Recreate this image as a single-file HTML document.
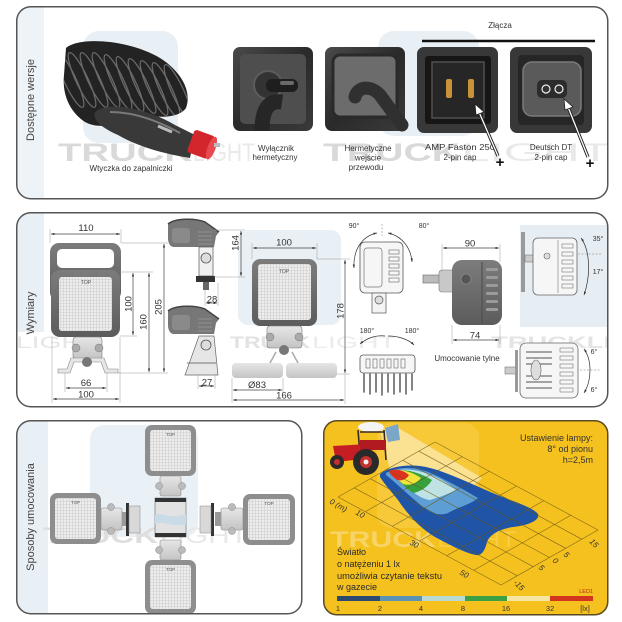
<!DOCTYPE html>
<html><head><meta charset="utf-8"><style>
html,body{margin:0;padding:0;background:#fff;}
svg{display:block;}
text{font-family:"Liberation Sans",Arial,sans-serif;}
</style></head><body>
<svg width="622" height="622" viewBox="0 0 622 622" xmlns="http://www.w3.org/2000/svg">
<defs>
 <pattern id="lg" width="3" height="3" patternUnits="userSpaceOnUse"><rect width="3" height="3" fill="#ededed"/><path d="M0 .5H3M.5 0V3" stroke="#cecece" stroke-width=".6"/></pattern>
 <marker id="ar" viewBox="0 0 6 4" refX="6" refY="2" markerWidth="5" markerHeight="3.4" orient="auto-start-reverse"><path d="M0 0L6 2L0 4z" fill="#333"/></marker>
 <linearGradient id="gb" x1="0" y1="0" x2="0" y2="1"><stop offset="0" stop-color="#7c7c7c"/><stop offset="1" stop-color="#5c5c5c"/></linearGradient>
 <linearGradient id="gp" x1="0" y1="0" x2="1" y2="1"><stop offset="0" stop-color="#4a4a4a"/><stop offset=".5" stop-color="#2a2a2a"/><stop offset="1" stop-color="#3a3a3a"/></linearGradient>
 <linearGradient id="gm" x1="0" y1="0" x2="0" y2="1"><stop offset="0" stop-color="#e6e6e6"/><stop offset="1" stop-color="#c4c4c4"/></linearGradient>
 <clipPath id="c1"><rect x="16.75" y="6.75" width="591" height="192" rx="14"/></clipPath>
 <clipPath id="c2"><rect x="16.75" y="212.75" width="591" height="194" rx="14"/></clipPath>
 <clipPath id="c3"><rect x="16.75" y="420.75" width="285" height="193" rx="14"/></clipPath>
 <clipPath id="coil"><path d="M66,48 C80,36 130,40 160,58 C182,72 192,92 186,108 C178,120 150,118 135,112 C120,125 100,130 85,122 C70,112 62,95 64,75 Z"/></clipPath>
</defs>

<!-- ================= PANEL 1 ================= -->
<rect x="16.75" y="6.75" width="591" height="192" rx="14" fill="#fff"/>
<g clip-path="url(#c1)">
 <rect x="16" y="6" width="28" height="194" fill="#edf3f7"/>
 <rect x="83" y="31" width="95" height="112" rx="16" fill="#e8eff5"/>
 <rect x="378" y="31" width="101" height="105" rx="16" fill="#e8eff5"/>
 <text x="58" y="161" font-size="25" font-weight="bold" fill="#d9d9d9" textLength="134" lengthAdjust="spacingAndGlyphs">TRUCK</text>
 <text x="193" y="161" font-size="25" fill="#e9e9e9" textLength="62" lengthAdjust="spacingAndGlyphs">LIGHT</text>
 <text x="323" y="161" font-size="25" font-weight="bold" fill="#d9d9d9" textLength="137" lengthAdjust="spacingAndGlyphs">TRUCK</text>
 <text x="461" y="161" font-size="25" fill="#e9e9e9" textLength="150" lengthAdjust="spacingAndGlyphs">LIGHT</text>
</g>
<rect x="16.75" y="6.75" width="591" height="192" rx="14" fill="none" stroke="#555" stroke-width="1.5"/>
<text transform="translate(34,100) rotate(-90)" text-anchor="middle" font-size="11" fill="#444">Dostępne wersje</text>

<!-- cable -->
<path d="M66,48 C80,36 130,40 160,58 C182,72 192,92 186,108 C178,120 150,118 135,112 C120,125 100,130 85,122 C70,112 62,95 64,75 Z" fill="#232323"/>
<g clip-path="url(#coil)" stroke="#6a6a6a" stroke-width="1.3" fill="none">
 <ellipse cx="70" cy="80" rx="6" ry="30" transform="rotate(-25 70 80)"/>
 <ellipse cx="82" cy="80" rx="6" ry="30" transform="rotate(-25 82 80)"/>
 <ellipse cx="94" cy="80" rx="6" ry="30" transform="rotate(-25 94 80)"/>
 <ellipse cx="106" cy="80" rx="6" ry="30" transform="rotate(-25 106 80)"/>
 <ellipse cx="118" cy="82" rx="6" ry="30" transform="rotate(-25 118 82)"/>
 <ellipse cx="130" cy="84" rx="6" ry="30" transform="rotate(-25 130 84)"/>
 <ellipse cx="142" cy="86" rx="6" ry="30" transform="rotate(-25 142 86)"/>
 <ellipse cx="154" cy="88" rx="6" ry="30" transform="rotate(-25 154 88)"/>
 <ellipse cx="166" cy="90" rx="6" ry="30" transform="rotate(-25 166 90)"/>
 <ellipse cx="178" cy="92" rx="6" ry="30" transform="rotate(-25 178 92)"/>
</g>
<path d="M95,112 C110,100 150,110 175,125 L195,135 L190,158 C170,155 140,148 118,135 C102,128 92,120 95,112 Z" fill="#393939"/>
<path d="M110,112 C135,112 160,122 180,133" stroke="#7a7a7a" stroke-width="2" fill="none"/>
<path d="M158,126 L172,132" stroke="#bbb" stroke-width="3"/>
<g transform="rotate(20 203 145)"><rect x="190" y="133" width="22" height="24" rx="3" fill="#d3262c"/><ellipse cx="212" cy="145" rx="4" ry="12" fill="#e9494e"/></g>
<rect x="214" y="143" width="6" height="4" fill="#bcbcbc"/>
<text x="131" y="171" text-anchor="middle" font-size="8" fill="#333" textLength="83" lengthAdjust="spacingAndGlyphs">Wtyczka do zapalniczki</text>

<!-- switch -->
<rect x="233" y="47" width="80" height="84" rx="7" fill="url(#gp)"/>
<rect x="240" y="54" width="66" height="70" rx="5" fill="#4e4e4e"/>
<circle cx="268" cy="85" r="14" fill="#333" stroke="#5c5c5c" stroke-width="2"/>
<rect x="266" y="79" width="32" height="13" rx="6" fill="#1e1e1e"/>
<rect x="280" y="81" width="14" height="4" rx="2" fill="#6a6a6a"/>
<path d="M262,131 C262,110 268,100 282,102" stroke="#262626" stroke-width="15" fill="none"/>
<text x="276" y="151" text-anchor="middle" font-size="8" fill="#333" textLength="36" lengthAdjust="spacingAndGlyphs">Wyłącznik</text>
<text x="275" y="160" text-anchor="middle" font-size="8" fill="#333" textLength="45" lengthAdjust="spacingAndGlyphs">hermetyczny</text>

<!-- hermetic -->
<rect x="325" y="47" width="80" height="84" rx="7" fill="url(#gp)"/>
<rect x="333" y="55" width="64" height="62" rx="7" fill="#6c6c6c" stroke="#2a2a2a" stroke-width="3"/>
<path d="M355,97 C358,85 372,86 380,95 L402,125" stroke="#303030" stroke-width="13" fill="none" stroke-linecap="round"/>
<text x="368" y="151" text-anchor="middle" font-size="8" fill="#333" textLength="47" lengthAdjust="spacingAndGlyphs">Hermetyczne</text>
<text x="368" y="160.5" text-anchor="middle" font-size="8" fill="#333">wejście</text>
<text x="366" y="170" text-anchor="middle" font-size="8" fill="#333">przewodu</text>

<!-- Zlacza -->
<text x="500" y="28" text-anchor="middle" font-size="8" fill="#333">Złącza</text>
<line x1="422" y1="41" x2="595" y2="41" stroke="#111" stroke-width="2.5"/>

<!-- AMP -->
<rect x="417" y="47" width="81" height="86" rx="7" fill="#383838"/>
<rect x="425" y="56" width="66" height="68" rx="3" fill="#161616"/>
<rect x="432" y="62" width="52" height="56" fill="#262626" stroke="#505050" stroke-width="1.5"/>
<rect x="446" y="79" width="6" height="19" rx="2" fill="#c8923a"/>
<rect x="468" y="79" width="6" height="19" rx="2" fill="#c8923a"/>
<text x="460" y="150" text-anchor="middle" font-size="8" fill="#333" textLength="70" lengthAdjust="spacingAndGlyphs">AMP Faston 250</text>
<text x="460" y="160" text-anchor="middle" font-size="8" fill="#333">2-pin cap</text>

<!-- Deutsch -->
<rect x="510" y="47" width="82" height="86" rx="7" fill="#383838"/>
<rect x="518" y="55" width="66" height="70" rx="4" fill="#262626"/>
<rect x="523" y="62" width="58" height="54" rx="9" fill="#5a5a5a" stroke="#7a7a7a" stroke-width="1.5"/>
<rect x="537" y="80" width="30" height="18" rx="5" fill="#2c2c2c"/>
<circle cx="546" cy="89" r="4" fill="#333" stroke="#eee" stroke-width="1.2"/>
<circle cx="559" cy="89" r="4" fill="#333" stroke="#eee" stroke-width="1.2"/>
<text x="551" y="150" text-anchor="middle" font-size="8" fill="#333">Deutsch DT</text>
<text x="551" y="160" text-anchor="middle" font-size="8" fill="#333">2-pin cap</text>

<!-- arrows -->
<line x1="498" y1="156" x2="479" y2="112" stroke="#222" stroke-width="3.2"/>
<line x1="498" y1="156" x2="479" y2="112" stroke="#fff" stroke-width="1.3"/>
<path d="M475,104 L484,112 L476,115 Z" fill="#fff" stroke="#222" stroke-width=".8"/>
<line x1="588" y1="157" x2="568" y2="107" stroke="#222" stroke-width="3.2"/>
<line x1="588" y1="157" x2="568" y2="107" stroke="#fff" stroke-width="1.3"/>
<path d="M564,99 L573,107 L565,110 Z" fill="#fff" stroke="#222" stroke-width=".8"/>
<text x="500" y="167" text-anchor="middle" font-size="15" font-weight="bold" fill="#111">+</text>
<text x="590" y="168" text-anchor="middle" font-size="15" font-weight="bold" fill="#111">+</text>

<!-- ================= PANEL 2 ================= -->
<rect x="16.75" y="212.75" width="591" height="194" rx="14" fill="#fff"/>
<g clip-path="url(#c2)">
 <rect x="16" y="212" width="28" height="120" fill="#e8eff5"/>
 <rect x="238" y="230" width="103" height="95" rx="10" fill="#e8eff5"/>
 <rect x="520" y="225" width="90" height="102" fill="#e6eef4"/>
 <text x="16" y="348" font-size="17" fill="#e6e6e6" textLength="83" lengthAdjust="spacingAndGlyphs">LIGHT</text>
 <text x="230" y="348" font-size="17" font-weight="bold" fill="#e2e2e2" textLength="80" lengthAdjust="spacingAndGlyphs">TRUCK</text>
 <text x="312" y="348" font-size="17" fill="#ececec" textLength="84" lengthAdjust="spacingAndGlyphs">LIGHT</text>
 <text x="491" y="348" font-size="17" font-weight="bold" fill="#e4e4e4" textLength="120" lengthAdjust="spacingAndGlyphs">TRUCKLI</text>
</g>
<rect x="16.75" y="212.75" width="591" height="194" rx="14" fill="none" stroke="#555" stroke-width="1.5"/>
<text transform="translate(34,313) rotate(-90)" text-anchor="middle" font-size="11" fill="#444">Wymiary</text>

<!-- lamp 1 -->
<rect x="50" y="243" width="71" height="58" rx="9" fill="url(#gb)"/>
<rect x="57" y="249" width="57" height="19" rx="5" fill="#fff"/>
<rect x="51" y="270" width="69" height="67" rx="9" fill="url(#gb)"/>
<rect x="59" y="277" width="53" height="54" rx="3" fill="url(#lg)"/>
<text x="86" y="284" text-anchor="middle" font-size="5" fill="#555">TOP</text>
<rect x="73" y="337" width="29" height="22" rx="3" fill="url(#gm)" stroke="#777" stroke-width=".6"/>
<circle cx="76" cy="348" r="4" fill="#aaa" stroke="#777" stroke-width=".5"/>
<circle cx="99" cy="348" r="4" fill="#aaa" stroke="#777" stroke-width=".5"/>
<path d="M58,373 L70,373 L74,362 L101,362 L105,373 L118,373 L118,369 L108,369 L104,358 L71,358 L67,369 L58,369 Z" fill="#e6e6e6" stroke="#888" stroke-width=".6"/>
<circle cx="87" cy="362" r="5" fill="#777"/>
<!-- lamp1 dims -->
<g stroke="#999" stroke-width=".5" fill="none">
 <path d="M50,229V243M121,229V243M121,243H168M120,272H153M120,336H137M118,373H168M65,373V392M107,373V392M52,337V403M120,337V403"/>
</g>
<g stroke="#444" stroke-width=".7" marker-start="url(#ar)" marker-end="url(#ar)">
 <line x1="51" y1="234" x2="120" y2="234"/>
 <line x1="133" y1="273" x2="133" y2="335"/>
 <line x1="149" y1="273" x2="149" y2="372"/>
 <line x1="164" y1="244" x2="164" y2="372"/>
 <line x1="66" y1="388" x2="106" y2="388"/>
 <line x1="53" y1="399" x2="119" y2="399"/>
</g>
<g font-size="9.5" fill="#333" text-anchor="middle">
 <text x="86" y="231">110</text>
 <text transform="translate(131.5,304) rotate(-90)">100</text>
 <text transform="translate(146.5,322) rotate(-90)">160</text>
 <text transform="translate(161.5,307) rotate(-90)">205</text>
 <text x="86" y="386">66</text>
 <text x="86" y="397.5">100</text>
</g>

<!-- side view top -->
<path d="M168,224 C175,218 195,218 205,222 L219,232 L216,236 L214,247 L174,247 C170,247 168,243 168,238 Z" fill="#777"/>
<path d="M168,224 C175,218 195,218 205,222 L219,232" stroke="#444" stroke-width="1.5" fill="none"/>
<rect x="172" y="228" width="18" height="15" rx="3" fill="#8a8a8a"/>
<g stroke="#9a9a9a" stroke-width=".8"><path d="M198,232H212M198,236H212M198,240H212M198,244H212"/></g>
<rect x="199" y="247" width="14" height="29" fill="#f0f0f0" stroke="#555" stroke-width=".7"/>
<circle cx="206" cy="258" r="5" fill="#ddd" stroke="#555" stroke-width=".8"/>
<rect x="196" y="276" width="19" height="6" fill="#333"/>
<rect x="203" y="282" width="6" height="8" fill="#666"/>
<!-- side view bottom -->
<path d="M168,311 C175,305 195,305 205,309 L219,319 L216,323 L214,334 L174,334 C170,334 168,330 168,325 Z" fill="#777"/>
<path d="M168,311 C175,305 195,305 205,309 L219,319" stroke="#444" stroke-width="1.5" fill="none"/>
<rect x="172" y="315" width="18" height="15" rx="3" fill="#8a8a8a"/>
<g stroke="#9a9a9a" stroke-width=".8"><path d="M198,319H212M198,323H212M198,327H212M198,331H212"/></g>
<path d="M199,336 L214,336 L218,375 L185,375 Z" fill="#e6e6e6" stroke="#666" stroke-width=".7"/>
<line x1="187" y1="363" x2="216" y2="363" stroke="#777" stroke-width="1"/>
<circle cx="206" cy="345" r="5" fill="#ddd" stroke="#555" stroke-width=".8"/>
<g stroke="#999" stroke-width=".5" fill="none">
 <path d="M214,230H245M214,277H245M205,290V306M218,283V306M198,375V389M215,375V389"/>
</g>
<g stroke="#444" stroke-width=".7" marker-start="url(#ar)" marker-end="url(#ar)">
 <line x1="241" y1="231" x2="241" y2="276"/>
 <line x1="206" y1="303" x2="217" y2="303"/>
 <line x1="199" y1="386" x2="214" y2="386"/>
</g>
<g font-size="9.5" fill="#333" text-anchor="middle">
 <text transform="translate(238.5,243) rotate(-90)">164</text>
 <text x="212" y="302.5">28</text>
 <text x="207" y="385.5">27</text>
</g>

<!-- center lamp -->
<rect x="252" y="259" width="65" height="67" rx="8" fill="url(#gb)"/>
<rect x="258" y="264" width="53" height="56" rx="3" fill="url(#lg)"/>
<text x="284" y="273" text-anchor="middle" font-size="5" fill="#555">TOP</text>
<rect x="267" y="326" width="35" height="22" rx="3" fill="url(#gm)" stroke="#777" stroke-width=".6"/>
<circle cx="270" cy="337" r="4" fill="#aaa" stroke="#777" stroke-width=".5"/>
<circle cx="299" cy="337" r="4" fill="#aaa" stroke="#777" stroke-width=".5"/>
<circle cx="284" cy="350" r="5" fill="#777"/>
<path d="M276,352 L270,363 M292,352 L298,363" stroke="#aaa" stroke-width="1.5"/>
<rect x="232" y="363" width="51" height="15" rx="4" fill="url(#gm)"/>
<rect x="286" y="363" width="51" height="15" rx="4" fill="url(#gm)"/>
<g stroke="#999" stroke-width=".5" fill="none">
 <path d="M252,243V259M317,243V259M317,259H350M337,374H350M232,378V403M283,378V393M345,374V404"/>
</g>
<g stroke="#444" stroke-width=".7" marker-start="url(#ar)" marker-end="url(#ar)">
 <line x1="253" y1="248" x2="316" y2="248"/>
 <line x1="345" y1="260" x2="345" y2="373"/>
 <line x1="233" y1="390" x2="282" y2="390"/>
 <line x1="233" y1="400" x2="344" y2="400"/>
</g>
<g font-size="9.5" fill="#333" text-anchor="middle">
 <text x="284" y="245.5">100</text>
 <text transform="translate(343.5,311) rotate(-90)">178</text>
 <text x="257" y="388">Ø83</text>
 <text x="284" y="398.5">166</text>
</g>

<!-- rotation side view -->
<rect x="360" y="242" width="43" height="51" rx="5" fill="#f6f6f6" stroke="#555" stroke-width=".8"/>
<rect x="364" y="248" width="18" height="39" rx="3" fill="none" stroke="#777" stroke-width=".7"/>
<g fill="none" stroke="#666" stroke-width=".6">
 <rect x="389" y="250" width="10" height="4"/><rect x="389" y="257" width="10" height="4"/><rect x="389" y="264" width="10" height="4"/><rect x="389" y="271" width="10" height="4"/><rect x="389" y="278" width="10" height="4"/>
</g>
<rect x="372" y="293" width="14" height="20" fill="#f4f4f4" stroke="#555" stroke-width=".7"/>
<circle cx="379" cy="300" r="4" fill="#ddd" stroke="#555" stroke-width=".7"/>
<line x1="382" y1="224" x2="382" y2="236" stroke="#777" stroke-width=".5" stroke-dasharray="2 1.5"/>
<path d="M377,233 C362,236 353,250 354,268" fill="none" stroke="#333" stroke-width=".7" marker-start="url(#ar)" marker-end="url(#ar)"/>
<path d="M388,233 C402,236 411,248 412,262" fill="none" stroke="#333" stroke-width=".7" marker-start="url(#ar)" marker-end="url(#ar)"/>
<g font-size="7" fill="#333" text-anchor="middle">
 <text x="354" y="228">90°</text><text x="424" y="228">80°</text>
 <text x="367" y="333">180°</text><text x="412" y="333">180°</text>
</g>
<path d="M360,344 C368,337 378,335 385,336" fill="none" stroke="#333" stroke-width=".7" marker-start="url(#ar)"/>
<path d="M388,336 C398,336 408,339 414,345" fill="none" stroke="#333" stroke-width=".7" marker-end="url(#ar)"/>
<rect x="360" y="355" width="55" height="18" rx="3" fill="#f6f6f6" stroke="#555" stroke-width=".8"/>
<g fill="none" stroke="#666" stroke-width=".6">
 <rect x="366" y="359" width="4" height="9"/><rect x="373" y="359" width="4" height="9"/><rect x="380" y="359" width="4" height="9"/><rect x="387" y="359" width="4" height="9"/><rect x="394" y="359" width="4" height="9"/><rect x="401" y="359" width="4" height="9"/>
</g>
<g stroke="#666" stroke-width="1.6" stroke-linecap="round">
 <path d="M364,374V392M370,374V394M376,374V392M382,374V395M388,374V392M394,374V394M400,374V392M406,374V394M412,374V390"/>
</g>

<!-- rear lamp -->
<rect x="423" y="275" width="18" height="8" fill="#bbb" stroke="#666" stroke-width=".6"/>
<rect x="439" y="270" width="16" height="22" rx="3" fill="#c8c8c8" stroke="#777" stroke-width=".6"/>
<rect x="452" y="260" width="50" height="65" rx="10" fill="url(#gb)"/>
<g fill="#9a9a9a"><rect x="486" y="268" width="12" height="3" rx="1"/><rect x="486" y="276" width="12" height="3" rx="1"/><rect x="486" y="284" width="12" height="3" rx="1"/><rect x="486" y="292" width="12" height="3" rx="1"/><rect x="486" y="300" width="12" height="3" rx="1"/><rect x="486" y="308" width="12" height="3" rx="1"/></g>
<line x1="482" y1="262" x2="482" y2="323" stroke="#4a4a4a" stroke-width="1"/>
<circle cx="466" cy="279" r="5" fill="#555" stroke="#888" stroke-width=".8"/>
<g stroke="#999" stroke-width=".5" fill="none"><path d="M442,244V272M500,244V262M452,325V344M500,325V344"/></g>
<g stroke="#444" stroke-width=".7" marker-start="url(#ar)" marker-end="url(#ar)">
 <line x1="443" y1="248" x2="499" y2="248"/>
 <line x1="453" y1="340" x2="499" y2="340"/>
</g>
<g font-size="9.5" fill="#333" text-anchor="middle"><text x="470" y="246.5">90</text><text x="475" y="338.5">74</text></g>
<text x="467" y="361" text-anchor="middle" font-size="8" fill="#333">Umocowanie tylne</text>

<!-- tilt view -->
<rect x="521" y="232" width="4" height="60" fill="#999"/>
<rect x="525" y="255" width="12" height="7" fill="#ccc" stroke="#666" stroke-width=".5"/>
<rect x="533" y="238" width="44" height="57" rx="5" fill="#f6f6f6" stroke="#666" stroke-width=".8"/>
<g fill="none" stroke="#777" stroke-width=".6"><rect x="562" y="244" width="11" height="4"/><rect x="562" y="252" width="11" height="4"/><rect x="562" y="260" width="11" height="4"/><rect x="562" y="268" width="11" height="4"/><rect x="562" y="276" width="11" height="4"/><rect x="562" y="284" width="11" height="4"/></g>
<line x1="558" y1="240" x2="558" y2="293" stroke="#777" stroke-width=".6"/>
<circle cx="547" cy="256" r="3" fill="#ddd" stroke="#666" stroke-width=".6"/>
<line x1="578" y1="254" x2="602" y2="254" stroke="#777" stroke-width=".5" stroke-dasharray="2 1.5"/>
<path d="M581,238 C590,250 591,275 584,295" fill="none" stroke="#333" stroke-width=".7" marker-start="url(#ar)" marker-end="url(#ar)"/>
<g font-size="7" fill="#333" text-anchor="middle"><text x="598" y="241">35°</text><text x="598" y="274">17°</text></g>

<!-- rear view 2 -->
<rect x="505" y="367" width="12" height="7" fill="#ccc" stroke="#666" stroke-width=".5"/>
<rect x="515" y="350" width="3" height="42" fill="#999"/>
<rect x="520" y="343" width="58" height="55" rx="6" fill="#f6f6f6" stroke="#666" stroke-width=".8"/>
<g fill="none" stroke="#777" stroke-width=".6"><rect x="560" y="348" width="13" height="4"/><rect x="560" y="356" width="13" height="4"/><rect x="560" y="364" width="13" height="4"/><rect x="560" y="372" width="13" height="4"/><rect x="560" y="380" width="13" height="4"/><rect x="560" y="388" width="13" height="4"/></g>
<g stroke="#888" stroke-width="1.4"><path d="M526,352H552M526,358H552M526,364H552M526,376H552M526,382H552M526,388H552"/></g>
<ellipse cx="536" cy="370" rx="5" ry="10" fill="#ddd" stroke="#666" stroke-width=".6"/>
<line x1="580" y1="370" x2="600" y2="370" stroke="#777" stroke-width=".5" stroke-dasharray="2 1.5"/>
<path d="M584,349 C592,360 592,380 584,393" fill="none" stroke="#333" stroke-width=".7" marker-start="url(#ar)" marker-end="url(#ar)"/>
<g font-size="7" fill="#333" text-anchor="middle"><text x="594" y="354">6°</text><text x="594" y="392">6°</text></g>

<!-- ================= PANEL 3 ================= -->
<rect x="16.75" y="420.75" width="285" height="193" rx="14" fill="#fff"/>
<g clip-path="url(#c3)">
 <rect x="16" y="420" width="32" height="196" fill="#e8eff5"/>
 <rect x="90" y="425" width="108" height="112" rx="14" fill="#eaf1f6"/>
 <text x="43" y="543" font-size="22" font-weight="bold" fill="#dedede" textLength="115" lengthAdjust="spacingAndGlyphs">TRUCK</text>
 <text x="160" y="543" font-size="22" fill="#e8e8e8" textLength="88" lengthAdjust="spacingAndGlyphs">LIGHT</text>
 <!-- top lamp -->
 <rect x="145" y="425" width="51" height="51" rx="7" fill="#8e8e8e"/>
 <rect x="150" y="430" width="41" height="41" rx="3" fill="url(#lg)"/>
 <text x="170.5" y="436" text-anchor="middle" font-size="4.5" fill="#555">TOP</text>
 <rect x="160" y="476" width="21" height="20" rx="2" fill="url(#gm)" stroke="#888" stroke-width=".6"/>
 <circle cx="159" cy="486" r="3.5" fill="#bbb" stroke="#888" stroke-width=".5"/>
 <circle cx="182" cy="486" r="3.5" fill="#bbb" stroke="#888" stroke-width=".5"/>
 <!-- center block -->
 <rect x="155" y="498" width="31" height="39" fill="#e2e2e2" stroke="#666" stroke-width=".6"/>
 <rect x="155" y="498" width="31" height="4" fill="#333"/>
 <rect x="155" y="533" width="31" height="4" fill="#333"/>
 <path d="M155,515 C162,512 170,520 186,514 L186,524 C172,528 164,520 155,524 Z" fill="#c8dbe6"/>
 <!-- left lamp -->
 <rect x="50" y="493" width="51" height="51" rx="7" fill="#8e8e8e"/>
 <rect x="55" y="498" width="41" height="41" rx="3" fill="url(#lg)"/>
 <text x="75.5" y="504" text-anchor="middle" font-size="4.5" fill="#555">TOP</text>
 <rect x="101" y="508" width="21" height="22" rx="2" fill="url(#gm)" stroke="#888" stroke-width=".6"/>
 <circle cx="111" cy="507" r="3.5" fill="#bbb" stroke="#888" stroke-width=".5"/>
 <circle cx="111" cy="531" r="3.5" fill="#bbb" stroke="#888" stroke-width=".5"/>
 <rect x="122" y="512" width="5" height="14" fill="#999"/>
 <rect x="126" y="503" width="3" height="33" fill="#333"/>
 <rect x="129" y="506" width="11" height="27" fill="#d8d8d8" stroke="#888" stroke-width=".5"/>
 <!-- right lamp -->
 <rect x="243" y="494" width="52" height="51" rx="7" fill="#8e8e8e"/>
 <rect x="248" y="499" width="42" height="41" rx="3" fill="url(#lg)"/>
 <text x="269" y="505" text-anchor="middle" font-size="4.5" fill="#555">TOP</text>
 <rect x="221" y="508" width="22" height="22" rx="2" fill="url(#gm)" stroke="#888" stroke-width=".6"/>
 <circle cx="232" cy="507" r="3.5" fill="#bbb" stroke="#888" stroke-width=".5"/>
 <circle cx="232" cy="531" r="3.5" fill="#bbb" stroke="#888" stroke-width=".5"/>
 <rect x="215" y="512" width="6" height="14" fill="#999"/>
 <rect x="211" y="503" width="3" height="33" fill="#333"/>
 <rect x="200" y="506" width="11" height="27" fill="#d8d8d8" stroke="#888" stroke-width=".5"/>
 <!-- bottom lamp -->
 <rect x="160" y="540" width="21" height="20" rx="2" fill="url(#gm)" stroke="#888" stroke-width=".6"/>
 <circle cx="159" cy="550" r="3.5" fill="#bbb" stroke="#888" stroke-width=".5"/>
 <circle cx="182" cy="550" r="3.5" fill="#bbb" stroke="#888" stroke-width=".5"/>
 <rect x="145" y="560" width="51" height="54" rx="7" fill="#8e8e8e"/>
 <rect x="150" y="565" width="41" height="44" rx="3" fill="url(#lg)"/>
 <text x="170.5" y="571" text-anchor="middle" font-size="4.5" fill="#555">TOP</text>
</g>
<rect x="16.75" y="420.75" width="285" height="193" rx="14" fill="none" stroke="#555" stroke-width="1.5"/>
<text transform="translate(34,517) rotate(-90)" text-anchor="middle" font-size="11" fill="#444">Sposoby umocowania</text>

<!-- ================= PANEL 4 ================= -->
<rect x="323.75" y="420.75" width="284" height="194" rx="13" fill="#f5c11f" stroke="#5a4a20" stroke-width="1.5"/>
<rect x="377" y="423" width="102" height="105" rx="14" fill="#f8cf4e" opacity=".55"/>
<text x="330" y="547" font-size="22" font-weight="bold" fill="#f8d466" textLength="106" lengthAdjust="spacingAndGlyphs">TRUCK</text>
<text x="437" y="547" font-size="22" fill="#f7cd45" textLength="80" lengthAdjust="spacingAndGlyphs">LIGHT</text>

<!-- beam -->
<path d="M380,430 L395,426 L482,478 L462,496 L392,478 Z" fill="#fff" opacity=".45"/>
<!-- blue lobe -->
<path d="M380,474 C390,466 412,463 430,468 C450,473 480,488 500,496 C515,502 532,507 538,514 C540,520 530,525 513,527 C500,529 490,534 487,542 C485,550 482,556 476,555 C465,553 450,545 435,537 C420,528 408,515 398,500 C390,490 383,482 380,477 Z" fill="#1f54a6"/>
<path d="M386,473 C398,466 418,466 435,475 C450,482 468,492 478,498 C470,505 458,507 448,513 C438,517 428,512 417,502 C405,492 395,482 386,475 Z" fill="#5d9fd4"/>
<path d="M392,472 C405,467 422,470 440,479 C450,485 456,489 456,490 C448,494 440,497 430,500 C420,499 410,490 400,481 Z" fill="#bfe3e4"/>
<path d="M393,472 C405,468 418,472 432,480 C428,487 420,492 413,493 C405,488 398,480 393,474 Z" fill="#36a03c"/>
<path d="M391,472 C401,468 412,472 421,478 C416,484 409,486 403,484 C398,480 394,476 391,473 Z" fill="#f2e33c"/>
<path d="M389,471 C396,468 403,470 409,475 C406,480 401,481 397,480 C393,477 390,474 389,472 Z" fill="#e0301e"/>
<!-- grid -->
<g stroke="#6a5818" stroke-width=".6" fill="none" opacity=".85">
 <path d="M338,497L501,585M354.2,487.8L517.2,575.8M370.3,478.7L533.3,566.7M386.5,469.5L549.5,557.5M402.7,460.3L565.7,548.3M418.8,451.2L581.8,539.2M435,442L598,530"/>
 <path d="M338,497L435,442M365.2,511.7L462.2,456.7M392.3,526.3L489.3,471.3M419.5,541L516.5,486M446.7,555.7L543.7,500.7M473.8,570.3L570.8,515.3M501,585L598,530"/>
</g>
<!-- tractor -->
<path d="M385,428 L398,424 L400,440 L388,442 Z" fill="#7aa6c8"/>
<ellipse cx="371" cy="427" rx="13" ry="5" fill="#f4f4f4"/>
<path d="M358,430 L360,455 M384,430 L386,460 M360,432 L384,432" stroke="#3a2a20" stroke-width="1.6" fill="none"/>
<path d="M333,446 L368,444 L372,458 L336,462 Z" fill="#c41e24"/>
<rect x="360" y="440" width="26" height="10" fill="#b01a20"/>
<circle cx="337" cy="462" r="7" fill="#2a2a2a"/><circle cx="337" cy="462" r="3" fill="#c43030"/>
<circle cx="366" cy="462" r="13" fill="#2a2a2a"/><circle cx="366" cy="462" r="6" fill="#c43030"/><circle cx="366" cy="462" r="2.5" fill="#eee"/>

<g fill="#333" font-size="9" text-anchor="end">
 <text x="593" y="441">Ustawienie lampy:</text>
 <text x="593" y="452">8° od pionu</text>
 <text x="593" y="463">h=2,5m</text>
</g>
<g fill="#333" font-size="8" font-style="italic">
 <text transform="translate(329,503) rotate(30)">0 (m)</text>
 <text transform="translate(355,514) rotate(30)">10</text>
 <text transform="translate(409,544) rotate(30)">30</text>
 <text transform="translate(459,574) rotate(30)">50</text>
 <text transform="translate(589,542) rotate(45)">15</text>
 <text transform="translate(563,555) rotate(45)">5</text>
 <text transform="translate(552,561) rotate(45)">0</text>
 <text transform="translate(538,568) rotate(45)">5</text>
 <text transform="translate(513,583) rotate(45)">-15</text>
</g>
<g fill="#2a2a2a" font-size="9">
 <text x="337" y="555">Światło</text>
 <text x="337" y="567">o natężeniu 1 lx</text>
 <text x="337" y="579" textLength="105" lengthAdjust="spacingAndGlyphs">umożliwia czytanie tekstu</text>
 <text x="337" y="590">w gazecie</text>
</g>
<rect x="337" y="596" width="43" height="5" fill="#2b4a70"/>
<rect x="380" y="596" width="42" height="5" fill="#5c92b4"/>
<rect x="422" y="596" width="43" height="5" fill="#b9dad4"/>
<rect x="465" y="596" width="42" height="5" fill="#3aa043"/>
<rect x="507" y="596" width="43" height="5" fill="#f5e6a4"/>
<rect x="550" y="596" width="43" height="5" fill="#d3351f"/>
<text x="593" y="593" text-anchor="end" font-size="5.5" fill="#b02a1a">LED1</text>
<g fill="#333" font-size="7.5" text-anchor="middle">
 <text x="338" y="611">1</text><text x="380" y="611">2</text><text x="421" y="611">4</text><text x="463" y="611">8</text><text x="506" y="611">16</text><text x="550" y="611">32</text><text x="585" y="611">[lx]</text>
</g>
</svg>
</body></html>
